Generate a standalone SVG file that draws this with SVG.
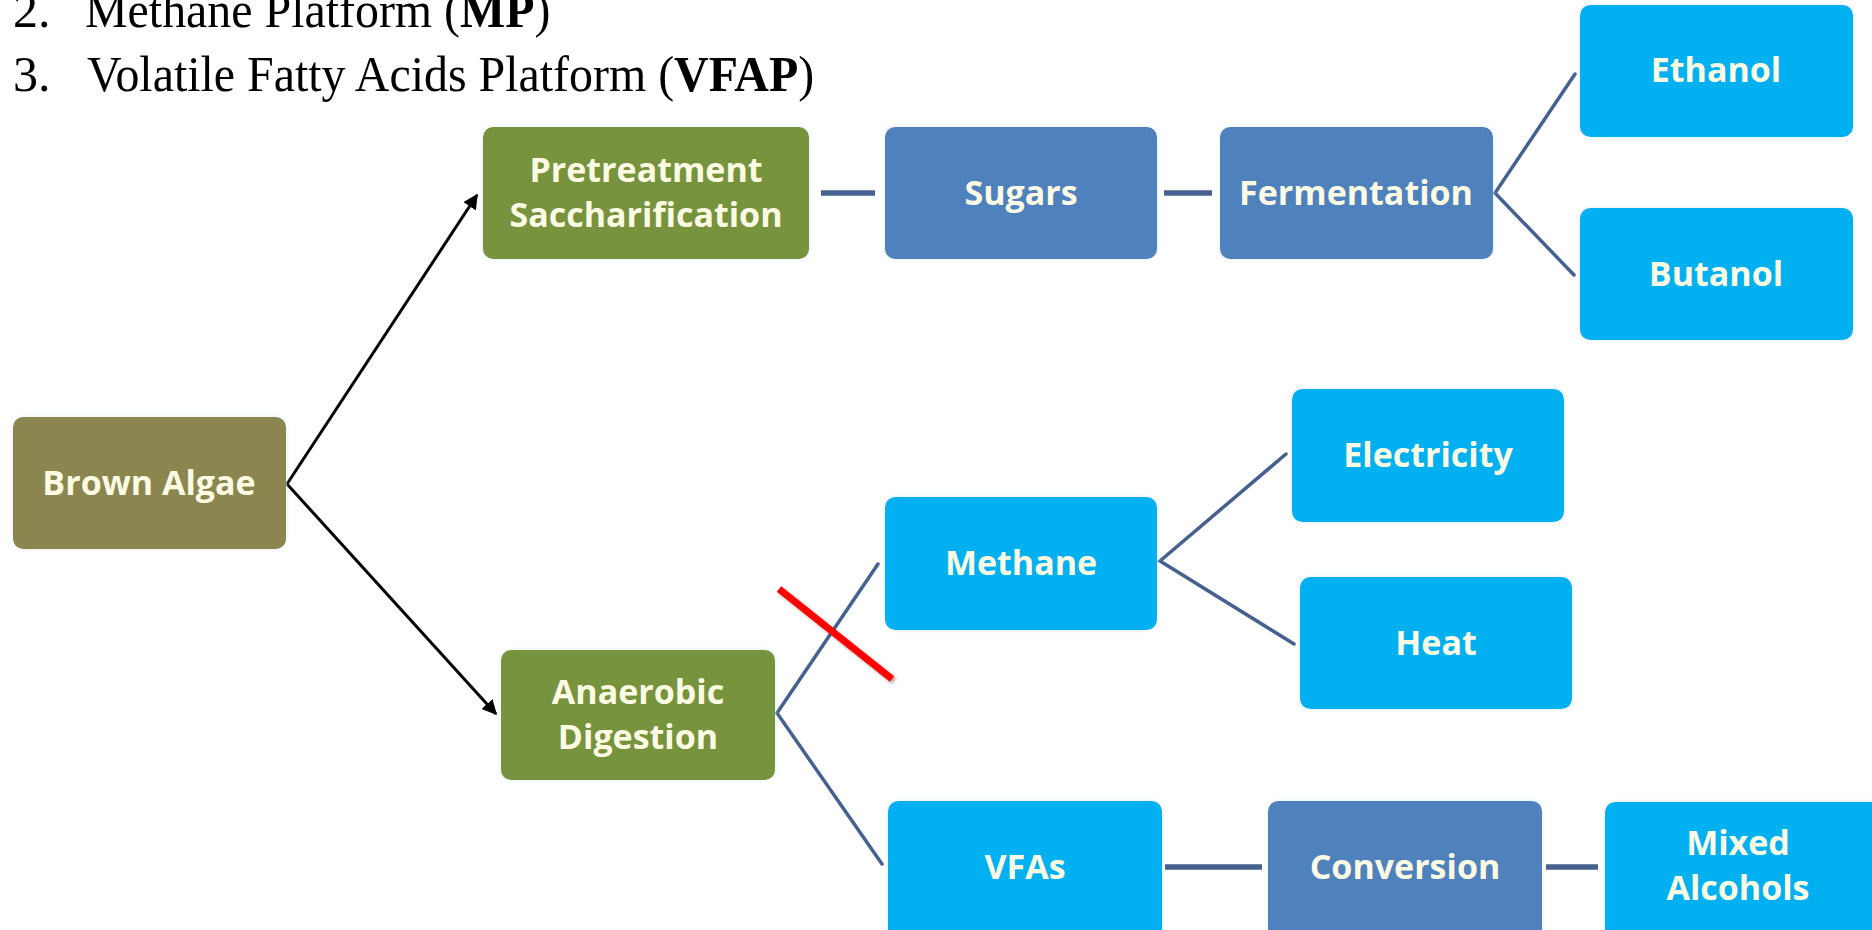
<svg xmlns="http://www.w3.org/2000/svg" width="1872" height="930" viewBox="0 0 1872 930">
<style>
.hdr{font-family:"Liberation Serif","Times New Roman",serif;font-size:50px;fill:#000}
.b{font-weight:bold}
.lbl{font-family:"Open Sans","Noto Sans",sans-serif;font-weight:bold;font-size:34px;fill:#FEFBE4;text-anchor:middle}
.box{stroke:none;filter:url(#glow)}
.brown{fill:#8B8650}
.green{fill:#77933C}
.dblue{fill:#4F81BD}
.lblue{fill:#00B0F0}
.conn{stroke:#46608F;fill:none;stroke-linecap:round}
.diag{stroke-width:3.5}
.horz{stroke-width:5.5;stroke-linecap:butt}
.arrow{stroke:#000;stroke-width:3;fill:none}
</style>
<defs>
<filter id="glow" x="-10%" y="-10%" width="120%" height="120%">
<feDropShadow dx="0" dy="0" stdDeviation="2.5" flood-color="#CFE3EC" flood-opacity="0.6"/>
</filter>
<filter id="shadow" x="-20%" y="-20%" width="140%" height="140%">
<feDropShadow dx="2" dy="2" stdDeviation="1.5" flood-color="#000" flood-opacity="0.35"/>
</filter>
<marker id="ah" viewBox="0 0 10 10" refX="9" refY="5" markerWidth="5" markerHeight="5" orient="auto" markerUnits="strokeWidth">
<path d="M0,0 L10,5 L0,10 z" fill="#000"/>
</marker>
</defs>
<rect width="1872" height="930" fill="#FFFFFF"/>

<g id="header">
<text class="hdr" x="13" y="27">2.</text>
<text class="hdr" transform="translate(85,27) scale(0.958,1)">Methane Platform (<tspan class="b">MP</tspan>)</text>
<text class="hdr" x="13" y="91">3.</text>
<text class="hdr" transform="translate(87,91) scale(0.958,1)">Volatile Fatty Acids Platform (<tspan class="b">VFAP</tspan>)</text>
</g>

<g id="connectors">
<line class="arrow" x1="287" y1="484" x2="477" y2="195" marker-end="url(#ah)"/>
<line class="arrow" x1="287" y1="484" x2="496" y2="714" marker-end="url(#ah)"/>
<line class="conn horz" x1="821" y1="193" x2="875" y2="193"/>
<line class="conn horz" x1="1164" y1="193" x2="1212" y2="193"/>
<polyline class="conn diag" points="1575,74 1495,193 1574,275"/>
<polyline class="conn diag" points="1286,454 1160,561 1294,644"/>
<polyline class="conn diag" points="878,564 777,713 882,864"/>
<line class="conn horz" x1="1165" y1="867" x2="1262" y2="867"/>
<line class="conn horz" x1="1546" y1="867" x2="1598" y2="867"/>
</g>

<g id="n-brown-algae">
<rect class="box brown" x="13" y="417" width="273" height="132" rx="10"/>
<text class="lbl" x="149" y="495">Brown Algae</text>
</g>
<g id="n-pretreatment">
<rect class="box green" x="483" y="127" width="326" height="132" rx="10"/>
<text class="lbl" x="646" y="182">Pretreatment</text>
<text class="lbl" x="646" y="227">Saccharification</text>
</g>
<g id="n-sugars">
<rect class="box dblue" x="885" y="127" width="272" height="132" rx="10"/>
<text class="lbl" x="1021" y="205">Sugars</text>
</g>
<g id="n-fermentation">
<rect class="box dblue" x="1220" y="127" width="273" height="132" rx="10"/>
<text class="lbl" x="1356" y="205">Fermentation</text>
</g>
<g id="n-ethanol">
<rect class="box lblue" x="1580" y="5" width="273" height="132" rx="10"/>
<text class="lbl" x="1716" y="82">Ethanol</text>
</g>
<g id="n-butanol">
<rect class="box lblue" x="1580" y="208" width="273" height="132" rx="10"/>
<text class="lbl" x="1716" y="286">Butanol</text>
</g>
<g id="n-electricity">
<rect class="box lblue" x="1292" y="389" width="272" height="133" rx="10"/>
<text class="lbl" x="1428" y="467">Electricity</text>
</g>
<g id="n-heat">
<rect class="box lblue" x="1300" y="577" width="272" height="132" rx="10"/>
<text class="lbl" x="1436" y="655">Heat</text>
</g>
<g id="n-methane">
<rect class="box lblue" x="885" y="497" width="272" height="133" rx="10"/>
<text class="lbl" x="1021" y="575">Methane</text>
</g>
<g id="n-anaerobic">
<rect class="box green" x="501" y="650" width="274" height="130" rx="10"/>
<text class="lbl" x="638" y="704">Anaerobic</text>
<text class="lbl" x="638" y="749">Digestion</text>
</g>
<g id="n-vfas">
<rect class="box lblue" x="888" y="801" width="274" height="140" rx="10"/>
<text class="lbl" x="1025" y="879">VFAs</text>
</g>
<g id="n-conversion">
<rect class="box dblue" x="1268" y="801" width="274" height="140" rx="10"/>
<text class="lbl" x="1405" y="879">Conversion</text>
</g>
<g id="n-mixed-alcohols">
<rect class="box lblue" x="1605" y="802" width="280" height="140" rx="10"/>
<text class="lbl" x="1738" y="855">Mixed</text>
<text class="lbl" x="1738" y="900">Alcohols</text>
</g>

<g id="strike">
<line x1="779" y1="589" x2="892" y2="679" stroke="#FF0000" stroke-width="7" filter="url(#shadow)"/>
</g>
</svg>
